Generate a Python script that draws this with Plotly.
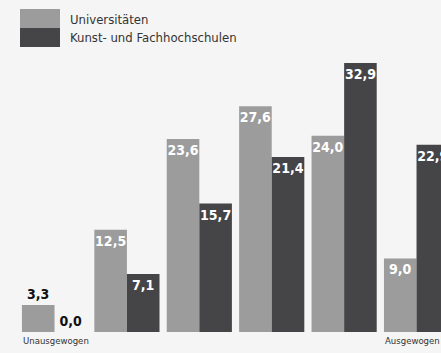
import plotly.graph_objects as go

categories = ["Unausgewogen", "2", "3", "4", "5", "Ausgewogen"]
universitaeten = [3.3, 12.5, 23.6, 27.6, 24.0, 9.0]
fachhochschulen = [0.0, 7.1, 15.7, 21.4, 32.9, 22.9]
series_names = ["Universitäten", "Kunst- und Fachhochschulen"]
end_labels = {0: "Unausgewogen", 5: "Ausgewogen"}

LIGHT = "#9c9c9c"
DARK = "#454547"
BG = "#f5f5f5"
FONT = "Liberation Sans Narrow, DejaVu Sans Condensed, sans-serif"

xs = list(range(len(categories)))


def positions(vals):
    return ["inside" if v >= 5 else "outside" for v in vals]


def colors(vals):
    return ["white" if v >= 5 else "#111111" for v in vals]


fig = go.Figure()
for name, vals, col in [(series_names[0], universitaeten, LIGHT),
                        (series_names[1], fachhochschulen, DARK)]:
    fig.add_trace(go.Bar(
        x=xs, y=vals, name=name, marker=dict(color=col, line=dict(width=0)),
        texttemplate="%{y:.1f}", textposition=positions(vals), textangle=0,
        insidetextanchor="end", cliponaxis=False, constraintext="none",
        textfont=dict(family=FONT, size=14, color=colors(vals), weight="bold"),
        showlegend=False,
    ))

# legend block: two stacked swatches with labels
fig.add_shape(type="rect", xref="paper", yref="paper", x0=20 / 441, x1=60 / 441,
              y0=1 - 28 / 332, y1=1 - 9 / 332, fillcolor=LIGHT, line=dict(width=0))
fig.add_shape(type="rect", xref="paper", yref="paper", x0=20 / 441, x1=60 / 441,
              y0=1 - 47 / 332, y1=1 - 28 / 332, fillcolor=DARK, line=dict(width=0))
for i, nm in enumerate(series_names):
    fig.add_annotation(xref="paper", yref="paper", x=68 / 441, y=1 - (19 + 19 * i) / 332,
                       text=nm, showarrow=False, xanchor="left", yanchor="middle",
                       font=dict(family=FONT, size=13, color="#333333"))

# scale end labels under the first and last group
for idx, txt in end_labels.items():
    fig.add_annotation(xref="x", yref="paper", x=xs[idx] - 0.46, y=-8 / 332,
                       text=txt, showarrow=False, xanchor="left", yanchor="middle",
                       font=dict(family=FONT, size=9.5, color="#333333"))

fig.update_layout(
    width=441, height=353,
    margin=dict(l=0, r=0, t=0, b=21),
    paper_bgcolor=BG, plot_bgcolor=BG,
    barmode="group", bargap=0.1, bargroupgap=0,
    separators=",.",
    xaxis=dict(range=[-0.753, 5.338], showticklabels=False,
               showgrid=False, zeroline=False, showline=False, ticks=""),
    yaxis=dict(range=[0, 40.6], visible=False),
)

fig.write_html("out.html")
